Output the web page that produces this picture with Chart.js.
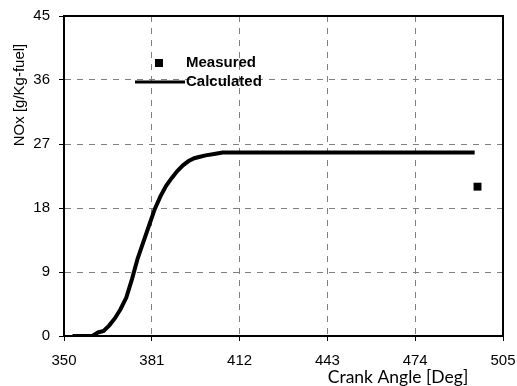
<!DOCTYPE html>
<html>
<head>
<meta charset="utf-8">
<script src="https://cdn.jsdelivr.net/npm/chart.js@4/dist/chart.umd.min.js"></script>
<style>
  html, body { margin: 0; padding: 0; background: #fff; }
  #wrap { width: 517px; height: 386px; }
</style>
</head>
<body>
<div id="wrap"><canvas id="noxChart" width="517" height="386"></canvas></div>
<script>
// calculated NOx curve (crank angle, g/kg-fuel)
const calcAngle = [353, 356, 360, 362, 364, 366, 368, 370, 372, 374, 376, 378, 380, 382, 384, 386, 388, 390, 392, 394, 396, 398, 400, 403, 406, 410, 430, 450, 470, 495];
const calcNox   = [0, 0, 0, 0.5, 0.7, 1.5, 2.5, 3.8, 5.4, 8.0, 10.9, 13.2, 15.5, 17.8, 19.6, 21.1, 22.2, 23.2, 24.0, 24.6, 25.0, 25.2, 25.4, 25.6, 25.8, 25.8, 25.8, 25.8, 25.8, 25.8];

// measured value
const measAngle = [496];
const measNox   = [21];

// axis ticks
const xTicks = [350, 381, 412, 443, 474, 505];
const yTicks = [0, 9, 18, 27, 36, 45];

const fontTick = { family: 'Liberation Sans, Arial, sans-serif', size: 15 };

// frame + axis titles + legend drawn inside the plot
const extras = {
  id: 'extras',
  afterDraw(chart) {
    const { ctx, chartArea: a } = chart;
    ctx.save();
    ctx.strokeStyle = '#000';
    ctx.lineWidth = 2;
    ctx.strokeRect(a.left, a.top, a.right - a.left, a.bottom - a.top);

    // y title
    ctx.fillStyle = '#000';
    ctx.font = '15px "Liberation Sans", Arial, sans-serif';
    ctx.translate(20, 95);
    ctx.rotate(-Math.PI / 2);
    ctx.textAlign = 'center';
    ctx.textBaseline = 'middle';
    ctx.fillText('NOx [g/Kg-fuel]', 0, 0);
    ctx.restore();

    ctx.save();
    ctx.fillStyle = '#000';
    ctx.font = '17.5px Lato, sans-serif';
    ctx.textAlign = 'center';
    ctx.textBaseline = 'middle';
    ctx.fillText('Crank Angle [Deg]', 398, 377);

    // legend
    ctx.font = 'bold 15px "Liberation Sans", Arial, sans-serif';
    ctx.textAlign = 'left';
    ctx.fillRect(155, 59, 8, 8);
    ctx.fillText('Measured', 186, 63);
    ctx.lineWidth = 3;
    ctx.beginPath();
    ctx.moveTo(135, 82);
    ctx.lineTo(185, 82);
    ctx.stroke();
    ctx.fillText('Calculated', 186, 82);
    ctx.restore();
  }
};

const gridOpts = {
  color: '#808080',
  lineWidth: 1,
  drawTicks: true,
  tickLength: 5,
  tickColor: '#000',
  tickBorderDash: [],
  tickWidth: 1
};

const config = {
  type: 'scatter',
  data: {
    datasets: [
      {
        label: 'Calculated',
        data: calcAngle.map((a, i) => ({ x: a, y: calcNox[i] })),
        showLine: true,
        borderColor: '#000',
        borderWidth: 4,
        pointRadius: 0,
        tension: 0
      },
      {
        label: 'Measured',
        data: measAngle.map((a, i) => ({ x: a, y: measNox[i] })),
        pointStyle: 'rect',
        pointRadius: 5.6,
        backgroundColor: '#000',
        borderWidth: 0
      }
    ]
  },
  options: {
    responsive: false,
    animation: false,
    layout: { padding: { left: 0, top: 16, right: 14, bottom: 0 } },
    plugins: { legend: { display: false }, tooltip: { enabled: false } },
    scales: {
      x: {
        type: 'linear',
        min: 350,
        max: 505,
        afterBuildTicks: s => { s.ticks = xTicks.map(v => ({ value: v })); },
        afterFit: s => { s.height = 50; s.paddingLeft = 0; s.paddingRight = 0; },
        ticks: { color: '#000', font: fontTick, padding: 11, maxRotation: 0 },
        grid: gridOpts,
        border: { display: true, color: '#000', width: 2, dash: [6, 6] }
      },
      y: {
        min: 0,
        max: 45,
        afterBuildTicks: s => { s.ticks = yTicks.map(v => ({ value: v })); },
        afterFit: s => { s.width = 64; s.paddingTop = 0; s.paddingBottom = 0; },
        ticks: { color: '#000', font: fontTick, padding: 9 },
        grid: gridOpts,
        border: { display: true, color: '#000', width: 2, dash: [6, 6] }
      }
    }
  },
  plugins: [extras]
};

const myChart = new Chart(document.getElementById('noxChart'), config);
</script>
</body>
</html>
